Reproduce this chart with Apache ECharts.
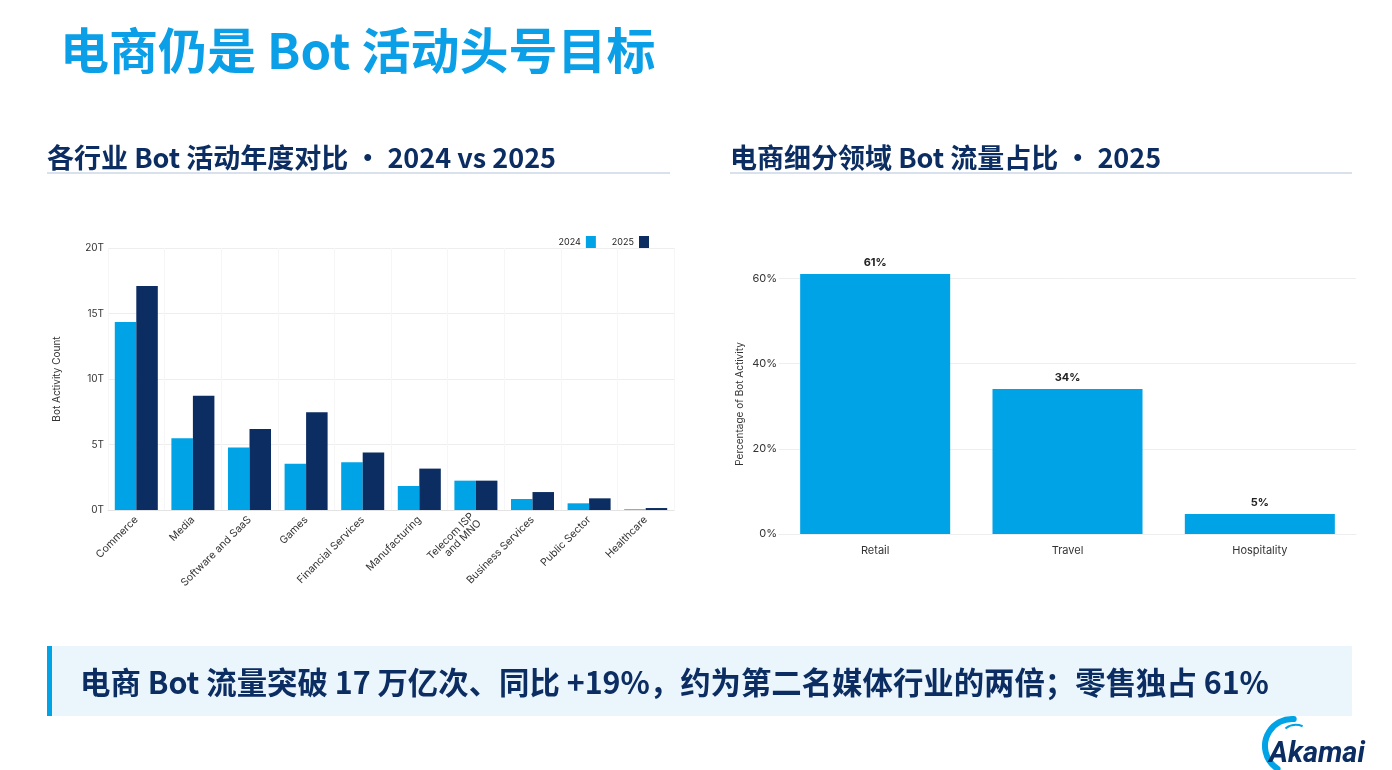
<!DOCTYPE html>
<html>
<head>
<meta charset="utf-8">
<title>电商仍是 Bot 活动头号目标</title>
<script src="https://cdn.jsdelivr.net/npm/echarts@6/dist/echarts.min.js"></script>
<style>
  html, body { margin: 0; padding: 0; background: #ffffff; }
  #main { width: 1392px; height: 770px; }
</style>
</head>
<body>
<div id="main"></div>
<script>
// 各行业 Bot 活动（单位：万亿 T）
var industries = ['Commerce', 'Media', 'Software and SaaS', 'Games', 'Financial Services',
    'Manufacturing', 'Telecom ISP\nand MNO', 'Business Services', 'Public Sector', 'Healthcare'];
var bots2024 = [14.35, 5.47, 4.78, 3.54, 3.64, 1.83, 2.24, 0.84, 0.51, 0.05];
var bots2025 = [17.1, 8.73, 6.18, 7.46, 4.38, 3.16, 2.24, 1.37, 0.89, 0.15];
var countTicks = [0, 5, 10, 15, 20];

// 电商细分领域占比（%）
var segments = ['Retail', 'Travel', 'Hospitality'];
var segmentShare = [61, 34, 4.7];
var shareTicks = [0, 20, 40, 60];

var CJK = '"Noto Sans CJK SC", "Noto Sans", sans-serif';
var LATIN = 'Inter, "Noto Sans", sans-serif';
var NAVY = '#0b2d62';
var SKY = '#00a3e6';

var myChart = echarts.init(document.getElementById('main'));

var options = {
    backgroundColor: '#ffffff',
    animation: false,
    textStyle: { fontFamily: LATIN },
    legend: {
        data: ['2024', '2025'],
        right: 738,
        top: 231,
        align: 'right',
        icon: 'rect',
        itemWidth: 10,
        itemHeight: 12,
        itemGap: 16,
        textStyle: { fontSize: 9, color: '#222', fontFamily: LATIN }
    },
    grid: [
        { left: 108, right: 718, top: 248, bottom: 260 },
        { left: 779, right: 36, top: 274, bottom: 236 }
    ],
    xAxis: [
        {
            gridIndex: 0,
            type: 'category',
            data: industries,
            axisTick: { show: false },
            axisLine: { lineStyle: { color: '#e3e3e3' } },
            splitLine: { show: true, lineStyle: { color: '#f6f6f6' } },
            axisLabel: {
                rotate: 45,
                interval: 0,
                margin: 8,
                fontSize: 10.5,
                lineHeight: 10,
                color: '#333'
            }
        },
        {
            gridIndex: 1,
            type: 'category',
            data: segments,
            axisTick: { show: false },
            axisLine: { lineStyle: { color: '#eeeeee' } },
            axisLabel: { margin: 11, fontSize: 11, color: '#333' }
        }
    ],
    yAxis: [
        {
            gridIndex: 0,
            type: 'value',
            min: countTicks[0],
            max: countTicks[countTicks.length - 1],
            interval: countTicks[1] - countTicks[0],
            name: 'Bot Activity Count',
            nameLocation: 'middle',
            nameRotate: 90,
            nameGap: 46,
            nameTextStyle: { fontSize: 10, color: '#333' },
            axisLabel: {
                margin: 4,
                fontSize: 10,
                color: '#333',
                formatter: function (v) { return v + 'T'; }
            },
            splitLine: { lineStyle: { color: '#eeeeee' } }
        },
        {
            gridIndex: 1,
            type: 'value',
            min: shareTicks[0],
            max: 61,
            interval: shareTicks[1] - shareTicks[0],
            name: 'Percentage of Bot Activity',
            nameLocation: 'middle',
            nameRotate: 90,
            nameGap: 34,
            nameTextStyle: { fontSize: 10, color: '#333' },
            axisLabel: {
                margin: 2,
                fontSize: 11,
                color: '#333',
                showMaxLabel: false,
                formatter: function (v) { return v + '%'; }
            },
            splitLine: { showMaxLine: false, lineStyle: { color: '#eeeeee' } }
        }
    ],
    series: [
        {
            name: '2024',
            type: 'bar',
            xAxisIndex: 0,
            yAxisIndex: 0,
            data: bots2024,
            barGap: '0%',
            barCategoryGap: '24%',
            itemStyle: { color: SKY }
        },
        {
            name: '2025',
            type: 'bar',
            xAxisIndex: 0,
            yAxisIndex: 0,
            data: bots2025,
            itemStyle: { color: NAVY }
        },
        {
            name: 'Share 2025',
            type: 'bar',
            xAxisIndex: 1,
            yAxisIndex: 1,
            data: segmentShare,
            barCategoryGap: '22%',
            itemStyle: { color: SKY },
            label: {
                show: true,
                position: 'top',
                distance: 6,
                fontSize: 11,
                fontWeight: 'bold',
                color: '#222',
                formatter: function (p) { return Math.round(p.value) + '%'; }
            }
        }
    ],
    graphic: [
        { // 大标题
            type: 'text', x: 60, y: 50,
            style: {
                text: '电商仍是 Bot 活动头号目标',
                fontFamily: CJK, fontSize: 49, fontWeight: 'bold',
                fill: '#0a9fe6', verticalAlign: 'middle'
            }
        },
        {
            type: 'text', x: 47, y: 158,
            style: {
                text: '各行业 Bot 活动年度对比 • 2024 vs 2025',
                fontFamily: CJK, fontSize: 27, fontWeight: 'bold',
                fill: NAVY, verticalAlign: 'middle'
            }
        },
        { type: 'rect', shape: { x: 47, y: 172, width: 623, height: 2 }, style: { fill: '#d8e1ec' } },
        {
            type: 'text', x: 730, y: 158,
            style: {
                text: '电商细分领域 Bot 流量占比 • 2025',
                fontFamily: CJK, fontSize: 27, fontWeight: 'bold',
                fill: NAVY, verticalAlign: 'middle'
            }
        },
        { type: 'rect', shape: { x: 730, y: 172, width: 622, height: 2 }, style: { fill: '#d8e1ec' } },
        // 底部结论条
        { type: 'rect', shape: { x: 47, y: 646, width: 1305, height: 70 }, style: { fill: '#eaf5fc' } },
        { type: 'rect', shape: { x: 47, y: 646, width: 5, height: 70 }, style: { fill: SKY } },
        {
            type: 'text', x: 80, y: 682,
            style: {
                text: '电商 Bot 流量突破 17 万亿次、同比 +19%，约为第二名媒体行业的两倍；零售独占 61%',
                fontFamily: CJK, fontSize: 30.4, fontWeight: 'bold',
                fill: NAVY, verticalAlign: 'middle'
            }
        },
        // Akamai logo
        {
            type: 'arc',
            shape: { cx: 1292, cy: 746, r: 27, startAngle: Math.PI * 0.68, endAngle: Math.PI * 1.52 },
            style: { stroke: SKY, lineWidth: 6, fill: null, lineCap: 'round' }
        },
        {
            type: 'arc',
            shape: { cx: 1296, cy: 743, r: 18, startAngle: Math.PI * 1.3, endAngle: Math.PI * 1.62 },
            style: { stroke: SKY, lineWidth: 2, fill: null }
        },
        {
            type: 'text', x: 1269, y: 755,
            style: {
                text: 'Akamai',
                fontFamily: 'Roboto, sans-serif', fontSize: 29, fontWeight: 'bold', fontStyle: 'italic',
                fill: NAVY, verticalAlign: 'middle'
            }
        }
    ]
};

myChart.setOption(options);
</script>
</body>
</html>
